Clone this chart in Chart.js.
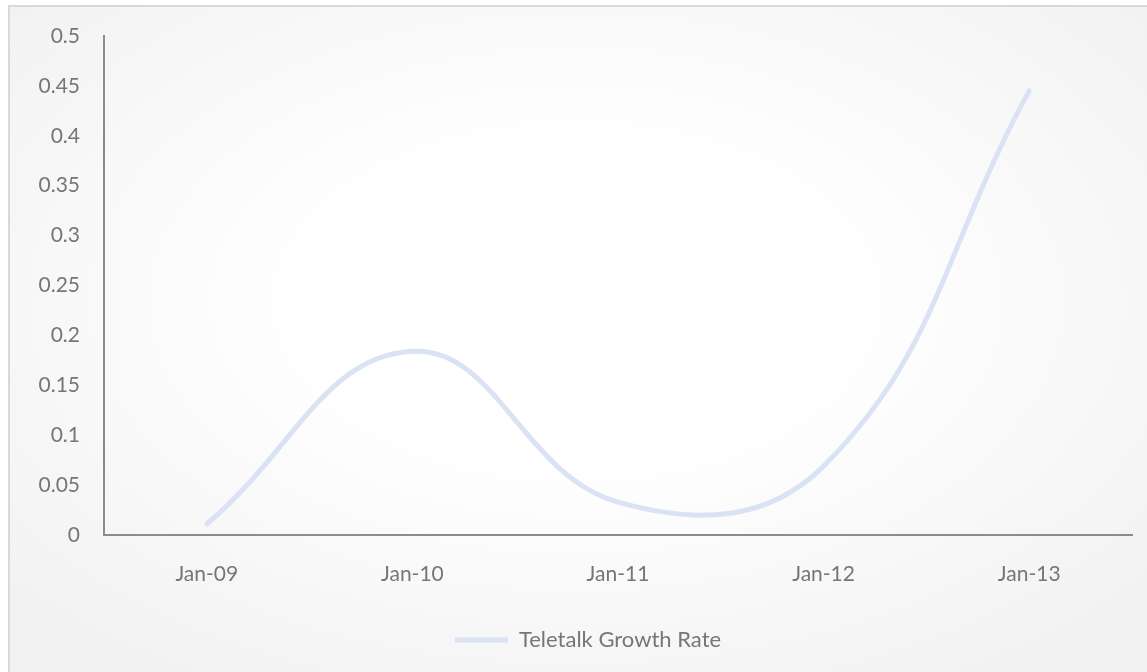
<!DOCTYPE html>
<html>
<head>
<meta charset="utf-8">
<script src="https://cdn.jsdelivr.net/npm/chart.js@4/dist/chart.umd.min.js"></script>
<style>
  html, body { margin: 0; padding: 0; width: 1147px; height: 672px; overflow: hidden; background: #ffffff; }
  #frame {
    position: absolute; left: 8px; top: 5px; width: 1180px; height: 700px;
    border-top: 2px solid #d9d9d9; border-left: 2px solid #d9d9d9;
    background: radial-gradient(ellipse 75% 75% at 48% 42%, #ffffff 0%, #ffffff 30%, #f2f2f2 85%);
  }
  #wrap { position: absolute; left: 0; top: 0; width: 1147px; height: 672px; }
</style>
</head>
<body>
<div id="frame"></div>
<div id="wrap"><canvas id="chart" width="1147" height="672"></canvas></div>
<script>
// Yearly growth rate, January of each year
const categories = ["Jan-09", "Jan-10", "Jan-11", "Jan-12", "Jan-13"];
const growthRate = [0.011, 0.184, 0.033, 0.069, 0.445];
const seriesName = "Teletalk Growth Rate";

const textColor = "#767676";
const axisColor = "#8c8c8c";
const lineColor = "#dae3f3";
const fontFamily = "Lato, 'Open Sans', sans-serif";

// The chart frame runs past the right edge of the page, so the legend
// sits a little right of the canvas centre.
const legendShift = {
  id: "legendShift",
  afterLayout(chart) {
    const lg = chart.legend;
    if (lg) { lg.left += 7; lg.right += 7; }
  }
};

new Chart(document.getElementById("chart"), {
  type: "line",
  data: {
    labels: categories,
    datasets: [{
      label: seriesName,
      data: growthRate,
      borderColor: lineColor,
      backgroundColor: lineColor,
      borderWidth: 5,
      borderCapStyle: "round",
      borderJoinStyle: "round",
      tension: 0.42,
      pointRadius: 0,
      pointHoverRadius: 0,
      pointStyle: "line",
      fill: false
    }]
  },
  options: {
    responsive: false,
    animation: false,
    events: [],
    layout: { padding: { left: 30, right: 15, top: 36, bottom: 11 } },
    scales: {
      x: {
        type: "category",
        offset: true,
        grid: { display: false },
        border: { display: true, color: axisColor, width: 2 },
        ticks: { color: textColor, font: { family: fontFamily, size: 21 }, padding: 19, maxRotation: 0 },
        afterFit: (s) => { s.height = 84; }
      },
      y: {
        min: 0,
        max: 0.5,
        grid: { display: false },
        border: { display: true, color: axisColor, width: 2 },
        ticks: {
          stepSize: 0.05,
          color: textColor,
          font: { family: fontFamily, size: 21 },
          padding: 16,
          callback: (v) => String(Number(v.toFixed(2)))
        },
        afterFit: (s) => { s.width = 74; }
      }
    },
    plugins: {
      legend: {
        position: "bottom",
        labels: {
          usePointStyle: true,
          pointStyle: "line",
          pointStyleWidth: 53,
          color: textColor,
          font: { family: fontFamily, size: 22 },
          padding: 10
        }
      },
      tooltip: { enabled: false }
    }
  },
  plugins: [legendShift]
});
</script>
</body>
</html>
